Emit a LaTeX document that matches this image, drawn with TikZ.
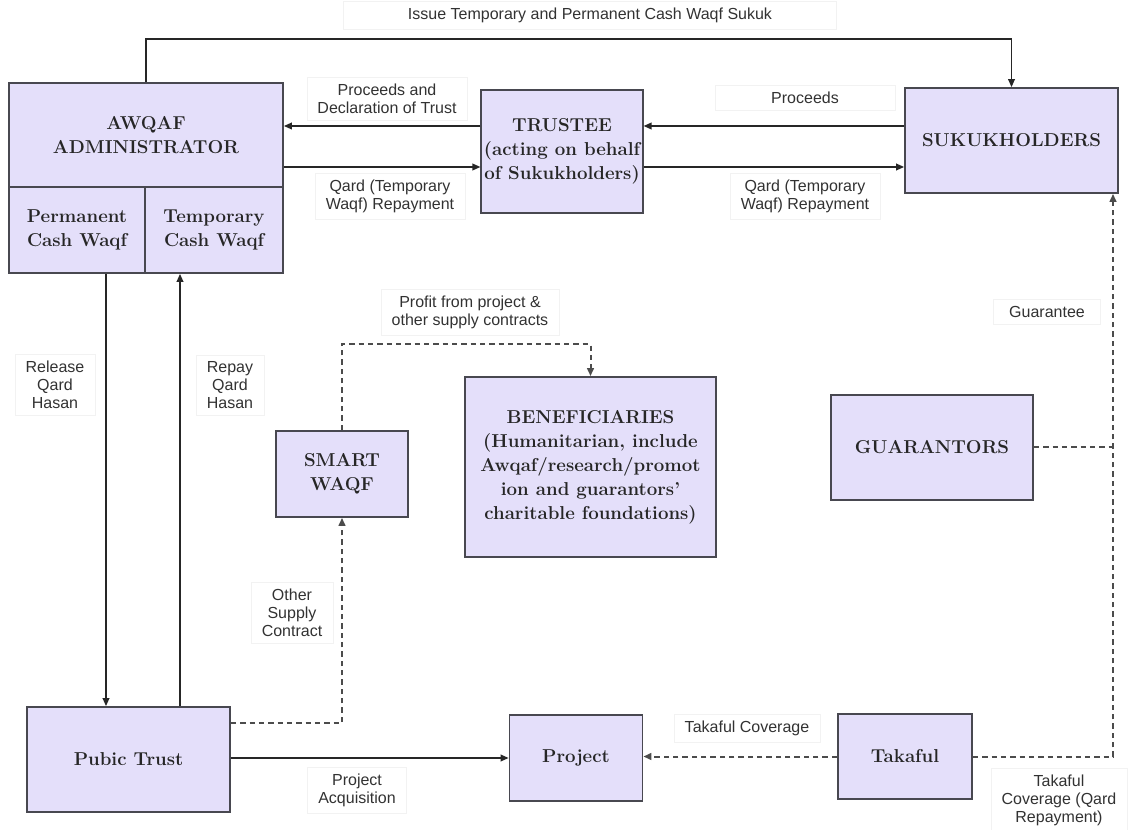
\documentclass[tikz,border=0pt]{standalone}
\usepackage{fontspec}
\newfontfamily\lblfont{Liberation Sans}
\usetikzlibrary{arrows.meta, positioning}
\definecolor{waqfviolet}{RGB}{228, 223, 250}
\definecolor{waqfedge}{RGB}{72, 72, 80}
\definecolor{lbltext}{RGB}{50, 50, 50}

\begin{document}
\begin{tikzpicture}[x=0.75pt, y=-0.75pt,
  box/.style 2 args={draw=waqfedge, fill=waqfviolet, line width=1.3pt,
    minimum width=#1*0.75pt, minimum height=#2*0.75pt, inner sep=2pt,
    align=center, font=\fontsize{14}{18}\selectfont\bfseries, text=black!85},
  lbl/.style={draw=black!5, line width=0.3pt, inner xsep=8pt, inner ysep=5pt, align=center,
    text=lbltext, font=\lblfont\fontsize{12}{13.5}\selectfont},
  flow/.style={draw=black!85, line width=1.1pt},
  arr/.style={flow, -{Triangle[length=6pt, width=5pt]}},
  dflow/.style={draw=black!70, line width=1.5pt, dash pattern=on 4pt off 3pt},
  darr/.style={dflow, -{Triangle[length=6pt, width=5pt]}}
]
  \useasboundingbox (0,0) rectangle (1129,830);

  % boxes
  \node[box={274}{104}] (admin) at (146, 135) {AWQAF\\ADMINISTRATOR};
  \node[box={136}{86}] (perm) at (77, 230) {Permanent\\Cash Waqf};
  \node[box={138}{86}] (temp) at (214, 230) {Temporary\\Cash Waqf};
  \node[box={146}{123}] (trustee) at (562, 151.5) {TRUSTEE\\(acting on behalf\\of Sukukholders)};
  \node[box={213}{105}] (sukuk) at (1011.5, 140.5) {SUKUKHOLDERS};
  \node[box={132}{86}] (smart) at (342, 474) {SMART\\WAQF};
  \node[box={251}{180}] (benef) at (590.5, 467) {BENEFICIARIES\\(Humanitarian, include\\Awqaf/research/promot\\ion and guarantors'\\charitable foundations)};
  \node[box={202}{105}] (guar) at (932, 447.5) {GUARANTORS};
  \node[box={203}{105}] (pubtrust) at (128.5, 759.5) {Pubic Trust};
  \node[box={133}{86}] (project) at (576, 758) {Project};
  \node[box={134}{85}] (takaful) at (905, 756.5) {Takaful};

  % labels
  \node[lbl, minimum width=370pt] (issue) at (590, 15) {Issue Temporary and Permanent Cash Waqf Sukuk};
  \node[lbl] (procdecl) at (387, 99) {Proceeds and\\Declaration of Trust};
  \node[lbl] (qardleft) at (390, 196) {Qard (Temporary\\Waqf) Repayment};
  \node[lbl, minimum width=135pt] (proceeds) at (805, 98) {Proceeds};
  \node[lbl] (qardright) at (805, 196) {Qard (Temporary\\Waqf) Repayment};
  \node[lbl] (release) at (55, 385) {Release\\Qard\\Hasan};
  \node[lbl] (repay) at (230, 385) {Repay\\Qard\\Hasan};
  \node[lbl] (profit) at (470, 312) {Profit from project \&\\other supply contracts};
  \node[lbl, minimum width=80pt] (guarantee) at (1047, 312) {Guarantee};
  \node[lbl] (othersupply) at (292, 613) {Other\\Supply\\Contract};
  \node[lbl, minimum width=55pt] (acquisition) at (357, 790) {Project\\Acquisition};
  \node[lbl] (takcov) at (747, 728) {Takaful Coverage};
  \node[lbl] (takqard) at (1059, 800) {Takaful\\Coverage (Qard\\Repayment)};

  % solid flows
  \draw[arr] (admin.north) -- ++(0,-43) -| (sukuk.north);
  \draw[arr] (trustee.west |- 0,126) -- (admin.east |- 0,126);
  \draw[arr] (admin.east |- 0,167) -- (trustee.west |- 0,167);
  \draw[arr] (sukuk.west |- 0,126) -- (trustee.east |- 0,126);
  \draw[arr] (trustee.east |- 0,167) -- (sukuk.west |- 0,167);
  \draw[arr] (perm.south -| 106,0) -- (pubtrust.north -| 106,0);
  \draw[arr] (pubtrust.north -| 180,0) -- (temp.south -| 180,0);
  \draw[arr] (pubtrust.east |- project.west) -- (project.west);

  % dashed flows
  \draw[darr] (smart.north) -- ++(0,-86) -| (benef.north);
  \draw[darr] (pubtrust.east |- 0,723) -| (smart.south);
  \draw[darr] (takaful.west) -- (project.east |- takaful.west);
  \draw[darr] (takaful.east) -| (sukuk.south -| 1113,0);
  \draw[dflow] (guar.east) -- (guar.east -| 1113,0);
\end{tikzpicture}
\end{document}
